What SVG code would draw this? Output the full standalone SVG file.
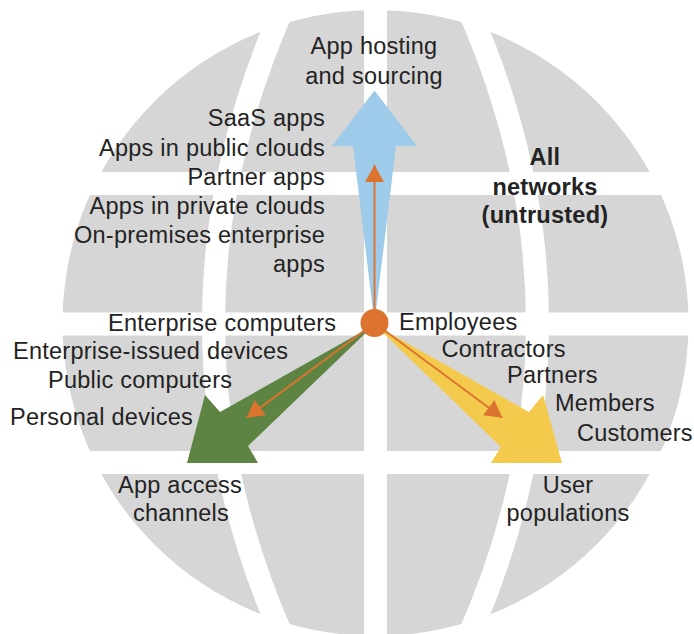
<svg xmlns="http://www.w3.org/2000/svg" width="694" height="634" viewBox="0 0 694 634">
  <style>
    text { font-family: "Liberation Sans", Arial, Helvetica, sans-serif; font-size: 23.5px; fill: #232323; letter-spacing: 0.25px; }
    .bold { font-weight: bold; }
    .mid { text-anchor: middle; }
    .end { text-anchor: end; }
    .band { fill: none; stroke: #ffffff; stroke-width: 23; }
    .probe { fill: none; stroke: #dc7430; stroke-width: 2; marker-end: url(#orangeHead); }
  </style>
  <defs>
    <marker id="orangeHead" markerUnits="userSpaceOnUse" viewBox="0 0 17 19" refX="17" refY="9.5" markerWidth="17" markerHeight="19" orient="auto">
      <path d="M0,0 L17,9.5 L0,19 z" fill="#dc7430"/>
    </marker>
  </defs>

  <!-- globe: grey disc cut by white parallels and meridians -->
  <g id="globe">
    <circle cx="375.5" cy="323" r="313" fill="#d6d6d6"/>
    <line class="band" x1="0" y1="183.5" x2="694" y2="183.5"/>
    <line class="band" x1="0" y1="324" x2="694" y2="324"/>
    <line class="band" x1="0" y1="462.5" x2="694" y2="462.5"/>
    <line class="band" x1="375.5" y1="0" x2="375.5" y2="634"/>
    <path class="band" d="M285.2,3 Q141.8,323 285.2,643"/>
    <path class="band" d="M465.8,3 Q609.2,323 465.8,643"/>
  </g>

  <!-- connectors: wide tapered arrows and thin orange probes -->
  <g id="connectors">
    <polygon fill="#9dcbe9" points="374.5,90.5 417,146 396,146 374.5,323 353,146 332,146"/>
    <polygon fill="#5d8443" points="374,325 220,412 205,395 187,463 258,463 248,446"/>
    <polygon fill="#f4ca4c" points="375,325 529,412 543,395 562,463 491,463 501,447"/>
    <line class="probe" x1="374.5" y1="323" x2="374.5" y2="165"/>
    <line class="probe" x1="374.5" y1="323" x2="246.7" y2="417.7"/>
    <line class="probe" x1="374.5" y1="323" x2="502.3" y2="417.7"/>
  </g>

  <g id="hub">
    <circle cx="374.5" cy="323" r="14" fill="#dc7430"/>
  </g>

  <g id="hosting">
    <text class="mid" x="374" y="54">App hosting</text>
    <text class="mid" x="374" y="83.5">and sourcing</text>
    <text class="end" x="325" y="126">SaaS apps</text>
    <text class="end" x="325" y="155.5">Apps in public clouds</text>
    <text class="end" x="325" y="184.5">Partner apps</text>
    <text class="end" x="325" y="213.5">Apps in private clouds</text>
    <text class="end" x="325" y="242.5">On-premises enterprise</text>
    <text class="end" x="325" y="271.5">apps</text>
  </g>

  <g id="networks">
    <text class="mid bold" x="545" y="165">All</text>
    <text class="mid bold" x="545" y="194.5">networks</text>
    <text class="mid bold" x="545" y="222.5">(untrusted)</text>
  </g>

  <g id="access">
    <text x="108" y="331">Enterprise computers</text>
    <text x="13" y="359">Enterprise-issued devices</text>
    <text x="48" y="388">Public computers</text>
    <text x="10" y="425">Personal devices</text>
    <text class="mid" x="180" y="492.5">App access</text>
    <text class="mid" x="181" y="521">channels</text>
  </g>

  <g id="users">
    <text x="399" y="330">Employees</text>
    <text x="441.5" y="356.5">Contractors</text>
    <text x="507" y="383">Partners</text>
    <text x="555" y="410.5">Members</text>
    <text x="577" y="441">Customers</text>
    <text class="mid" x="568" y="492.5">User</text>
    <text class="mid" x="568" y="521">populations</text>
  </g>
</svg>
